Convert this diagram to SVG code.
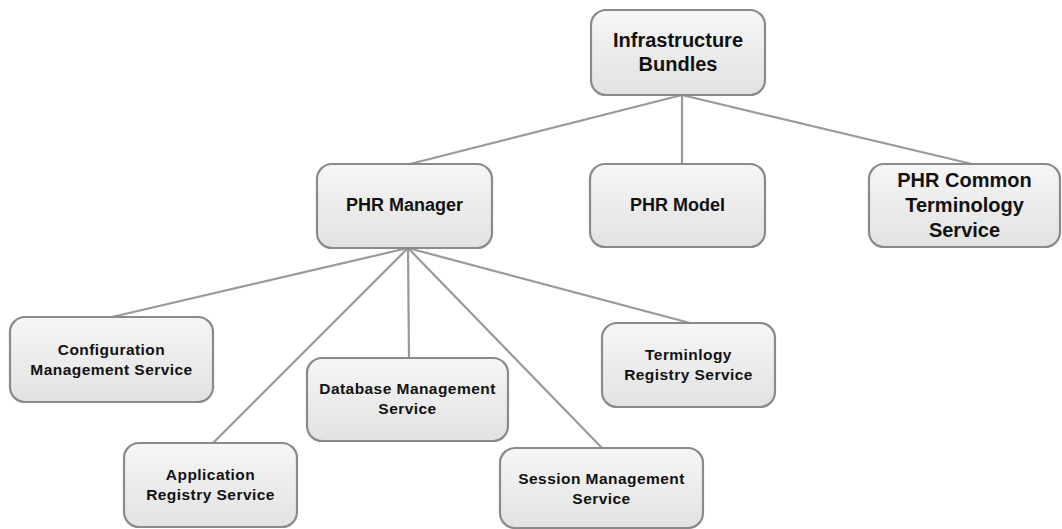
<svg xmlns="http://www.w3.org/2000/svg" width="1062" height="529" viewBox="0 0 1062 529">
<defs>
<linearGradient id="g" x1="0" y1="0" x2="0" y2="1">
<stop offset="0" stop-color="#f6f6f6"/>
<stop offset="1" stop-color="#e2e2e2"/>
</linearGradient>
<style>
rect.n{fill:url(#g);stroke:#8a8a8a;stroke-width:2.2}
text{font-family:"Liberation Sans",Arial,sans-serif;font-weight:bold;fill:#111;text-anchor:middle}
.l{font-size:20px}
.m{font-size:18px}
.s{font-size:15.5px;letter-spacing:0.45px}
#connectors line{stroke:#999;stroke-width:2.2}
</style>
</defs>
<rect width="1062" height="529" fill="#fff"/>
<g id="connectors">
<line x1="682" y1="95" x2="410" y2="164"/>
<line x1="682" y1="95" x2="682" y2="164"/>
<line x1="682" y1="95" x2="972" y2="164"/>
<line x1="408" y1="248" x2="112" y2="317"/>
<line x1="408" y1="248" x2="213" y2="443"/>
<line x1="408" y1="248" x2="409" y2="358"/>
<line x1="408" y1="248" x2="602" y2="448"/>
<line x1="408" y1="248" x2="690" y2="323"/>
</g>
<g id="infrastructure">
<rect class="n" x="591" y="10" width="174" height="85" rx="15"/>
<text class="l" x="678" y="47">Infrastructure</text>
<text class="l" x="678" y="71">Bundles</text>
</g>
<g id="phr-manager">
<rect class="n" x="317" y="164" width="175" height="84" rx="15"/>
<text class="m" x="404.5" y="211">PHR Manager</text>
</g>
<g id="phr-model">
<rect class="n" x="590" y="164" width="175" height="83" rx="15"/>
<text class="m" x="677.5" y="211">PHR Model</text>
</g>
<g id="phr-common">
<rect class="n" x="869" y="164" width="191" height="83" rx="15"/>
<text class="l" x="964.5" y="187">PHR Common</text>
<text class="l" x="964.5" y="212">Terminology</text>
<text class="l" x="964.5" y="237">Service</text>
</g>
<g id="configuration">
<rect class="n" x="10" y="317" width="203" height="85" rx="15"/>
<text class="s" x="111.5" y="355">Configuration</text>
<text class="s" x="111.5" y="375">Management Service</text>
</g>
<g id="application">
<rect class="n" x="124" y="443" width="173" height="84" rx="15"/>
<text class="s" x="210.5" y="480">Application</text>
<text class="s" x="210.5" y="500">Registry Service</text>
</g>
<g id="database">
<rect class="n" x="307" y="358" width="201" height="83" rx="15"/>
<text class="s" x="407.5" y="394">Database Management</text>
<text class="s" x="407.5" y="414">Service</text>
</g>
<g id="terminology-registry">
<rect class="n" x="602" y="323" width="173" height="84" rx="15"/>
<text class="s" x="688.5" y="360">Terminlogy</text>
<text class="s" x="688.5" y="380">Registry Service</text>
</g>
<g id="session">
<rect class="n" x="500" y="448" width="203" height="80" rx="15"/>
<text class="s" x="601.5" y="484">Session Management</text>
<text class="s" x="601.5" y="504">Service</text>
</g>
</svg>
